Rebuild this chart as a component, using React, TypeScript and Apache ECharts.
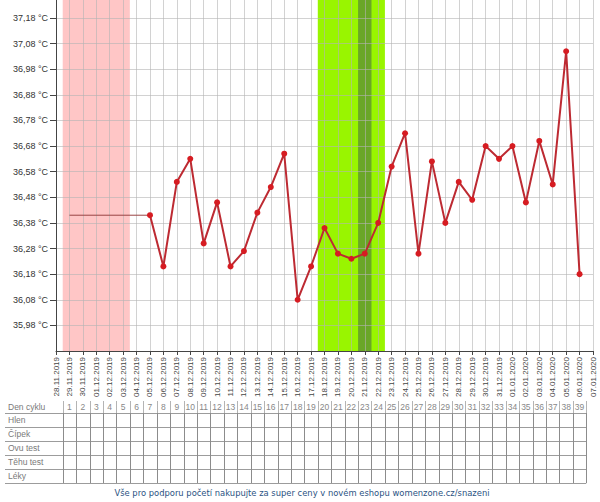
import React, { useEffect, useRef } from 'react';
import * as echarts from 'echarts';

// ---- data ----
const DATES = [
  '28.11.2019', '29.11.2019', '30.11.2019', '01.12.2019', '02.12.2019', '03.12.2019', '04.12.2019',
  '05.12.2019', '06.12.2019', '07.12.2019', '08.12.2019', '09.12.2019', '10.12.2019', '11.12.2019',
  '12.12.2019', '13.12.2019', '14.12.2019', '15.12.2019', '16.12.2019', '17.12.2019', '18.12.2019',
  '19.12.2019', '20.12.2019', '21.12.2019', '22.12.2019', '23.12.2019', '24.12.2019', '25.12.2019',
  '26.12.2019', '27.12.2019', '28.12.2019', '29.12.2019', '30.12.2019', '31.12.2019', '01.01.2020',
  '02.01.2020', '03.01.2020', '04.01.2020', '05.01.2020', '06.01.2020', '07.01.2020',
];

const TEMPS: (number | null)[] = [
  null, null, null, null, null, null, null,
  36.41, 36.21, 36.54, 36.63, 36.30, 36.46, 36.21,
  36.27, 36.42, 36.52, 36.65, 36.08, 36.21, 36.36,
  36.26, 36.24, 36.26, 36.38, 36.60, 36.73, 36.26,
  36.62, 36.38, 36.54, 36.47, 36.68, 36.63, 36.68,
  36.46, 36.70, 36.53, 37.05, 36.18, null,
];

const PRE_LINE_DATES = ['29.11.2019', '05.12.2019'];
const PRE_LINE_VALUE = 36.41;

const CYCLE_START = '29.11.2019';
const MENSES_DAYS = [1, 5];
const FERTILE_DAYS = [20, 24];
const OVULATION_DAYS = [23, 23];

const Y_LABEL_OFFSET = 0.08; // tick labels sit at x.x8
const Y_MIN = 35.88;
const Y_MAX = 37.25;
const Y_STEP = 0.1;

const CYCLE_DAY_LABELS = [
  '1', '2', '3', '4', '5', '6', '7', '8', '9', '10', '11', '12', '13', '14', '15', '16', '17', '18', '19', '20',
  '21', '22', '23', '24', '25', '26', '27', '28', '29', '30', '31', '32', '33', '34', '35', '36', '37', '38', '39',
];
const ROW_LABELS = ['Den cyklu', 'Hlen', 'Čípek', 'Ovu test', 'Těhu test', 'Léky'];
const FOOTER = 'Vše pro podporu početí nakupujte za super ceny v novém eshopu womenzone.cz/snazeni';

const FONT = '"Liberation Sans", Arial, sans-serif';

export default function App() {
  const ref = useRef<HTMLDivElement>(null);

  useEffect(() => {
    if (!ref.current) return;
    const chart = echarts.init(ref.current, null, { renderer: 'svg' });
    const shift = (v: number) => +(v - Y_LABEL_OFFSET).toFixed(4);
    const startIdx = DATES.indexOf(CYCLE_START);
    const dayIdx = (d: number) => startIdx + d - 1;

    const mainData: [number, number][] = [];
    TEMPS.forEach((t, i) => {
      if (t != null) mainData.push([i, shift(t)]);
    });
    const preData = PRE_LINE_DATES.map((d) => [DATES.indexOf(d), shift(PRE_LINE_VALUE)]);

    const band = (days: number[], color: string) => [
      { xAxis: dayIdx(days[0]) - 0.5, itemStyle: { color } },
      { xAxis: dayIdx(days[1]) + 0.5 },
    ];

    chart.setOption({
      animation: false,
      textStyle: { fontFamily: FONT },
      grid: { left: 56, right: 7, top: 0, bottom: 151, containLabel: false },
      xAxis: {
        type: 'value',
        min: 0,
        max: DATES.length - 1,
        interval: 1,
        axisLine: { show: true, lineStyle: { color: '#444', width: 1 } },
        axisTick: { show: true, length: 4, lineStyle: { color: '#444' } },
        axisLabel: {
          rotate: 90,
          margin: 6,
          fontSize: 8,
          color: '#444',
          fontFamily: FONT,
          formatter: (v: number) => DATES[Math.round(v)] ?? '',
        },
        splitLine: { show: true, lineStyle: { color: 'rgba(180,180,180,0.6)', width: 1 } },
      },
      yAxis: {
        type: 'value',
        min: shift(Y_MIN),
        max: shift(Y_MAX),
        interval: Y_STEP,
        axisLine: { show: true, lineStyle: { color: '#444', width: 1 } },
        axisTick: { show: true, length: 6, lineStyle: { color: '#444' } },
        axisLabel: {
          showMinLabel: false,
          showMaxLabel: false,
          margin: 8,
          fontSize: 9,
          color: '#333',
          fontFamily: FONT,
          formatter: (v: number) => (v + Y_LABEL_OFFSET).toFixed(2).replace('.', ',') + ' °C',
        },
        splitLine: {
          show: true,
          showMinLine: false,
          showMaxLine: false,
          lineStyle: { color: 'rgba(180,180,180,0.6)', width: 1 },
        },
      },
      series: [
        {
          type: 'line',
          data: [],
          z: -1,
          zlevel: 0,
          markArea: {
            silent: true,
            z: -1,
            data: [
              band(MENSES_DAYS, '#ffc6c6'),
              band(FERTILE_DAYS, '#99f500'),
              band(OVULATION_DAYS, '#6aa628'),
            ],
          },
        },
        {
          type: 'line',
          data: preData,
          symbol: 'none',
          lineStyle: { color: '#9a4444', width: 1 },
          z: 3,
        },
        {
          type: 'line',
          data: mainData,
          symbol: 'circle',
          symbolSize: 6,
          lineStyle: { color: '#bd2a32', width: 2 },
          itemStyle: { color: '#d61c22' },
          z: 4,
        },
      ],
    });

    // Observation table aligned to the x axis scale
    const px = (v: number) => chart.convertToPixel({ xAxisIndex: 0 }, v) as number;
    const graphic: any[] = [];
    const lineColor = '#9c9c9c';
    const tableLeft = 5;
    const headerY = 407;
    const rowTop = 413;
    const rowH = 14;
    const nRows = ROW_LABELS.length - 1;
    const colRight = px(dayIdx(CYCLE_DAY_LABELS.length) + 0.5);
    const crisp = (v: number) => Math.round(v) + 0.5;

    for (let r = 0; r <= nRows; r++) {
      const y = crisp(rowTop + r * rowH);
      graphic.push({
        type: 'line',
        silent: true,
        shape: { x1: tableLeft, y1: y, x2: colRight, y2: y },
        style: { stroke: lineColor, lineWidth: 1 },
      });
    }
    for (let c = 0; c <= CYCLE_DAY_LABELS.length; c++) {
      const x = crisp(px(dayIdx(1) - 0.5 + c));
      graphic.push({
        type: 'line',
        silent: true,
        shape: { x1: x, y1: rowTop, x2: x, y2: rowTop + nRows * rowH },
        style: { stroke: '#8c8c8c', lineWidth: 1 },
      });
      graphic.push({
        type: 'line',
        silent: true,
        shape: { x1: x, y1: 401, x2: x, y2: rowTop },
        style: { stroke: '#b4b4b4', lineWidth: 1 },
      });
    }
    CYCLE_DAY_LABELS.forEach((lab, i) => {
      graphic.push({
        type: 'text',
        silent: true,
        style: {
          text: lab,
          x: px(dayIdx(i + 1)),
          y: headerY,
          align: 'center',
          verticalAlign: 'middle',
          fontSize: 8.5,
          fontFamily: FONT,
          fill: '#888',
        },
      });
    });
    ROW_LABELS.forEach((lab, r) => {
      graphic.push({
        type: 'text',
        silent: true,
        style: {
          text: lab,
          x: 8,
          y: r === 0 ? headerY : rowTop + (r - 1) * rowH + rowH / 2,
          align: 'left',
          verticalAlign: 'middle',
          fontSize: 8.5,
          fontFamily: FONT,
          fill: '#7a7a7a',
        },
      });
    });
    graphic.push({
      type: 'text',
      silent: true,
      style: {
        text: FOOTER,
        x: 302,
        y: 493,
        align: 'center',
        verticalAlign: 'middle',
        fontSize: 8.4,
        fontFamily: '"DejaVu Sans", Verdana, sans-serif',
        fill: '#2a5282',
      },
    });

    chart.setOption({ graphic });

    return () => chart.dispose();
  }, []);

  return (
    <div
      ref={ref}
      style={{ position: 'fixed', left: 0, top: 0, width: 600, height: 502, background: '#fff' }}
    />
  );
}
